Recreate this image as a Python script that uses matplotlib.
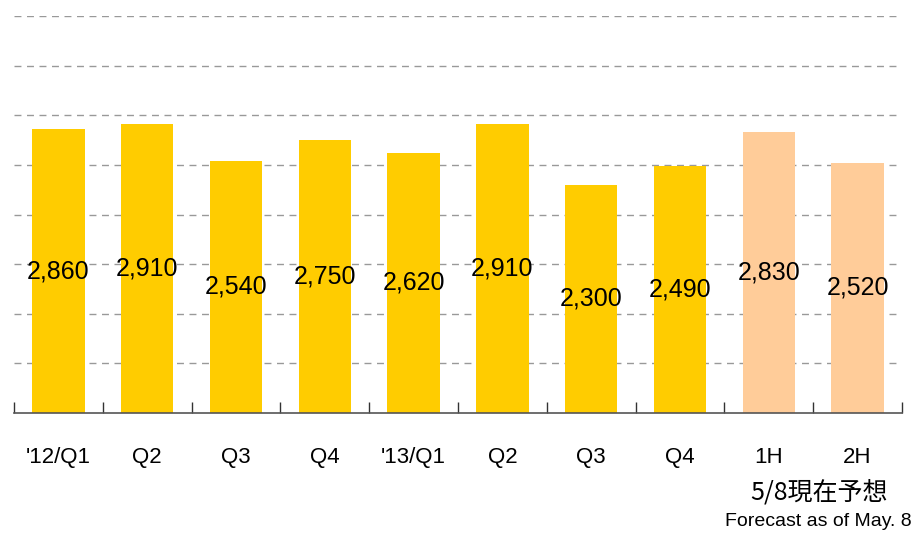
import matplotlib.pyplot as plt
import numpy as np

labels = ["'12/Q1", "Q2", "Q3", "Q4", "'13/Q1", "Q2", "Q3", "Q4", "1H", "2H"]
values = [2860, 2910, 2540, 2750, 2620, 2910, 2300, 2490, 2830, 2520]
forecast = [False] * 8 + [True] * 2

actual_color = "#FFCC00"
forecast_color = "#FFCC99"
narrow = ["Liberation Sans Narrow", "Liberation Sans", "DejaVu Sans"]

fig = plt.figure(figsize=(9.14, 5.33), dpi=100)
ax = fig.add_axes([14 / 914, 1 - 413 / 533, 888 / 914, 397 / 533])

x = np.arange(len(values))
colors = [forecast_color if f else actual_color for f in forecast]
ax.bar(x, values, width=0.59, color=colors, zorder=2)

for xi, v in zip(x, values):
    ax.text(xi, v / 2, f"{v:,}", ha="center", va="center", fontsize=18,
            family=["Liberation Sans", "DejaVu Sans"], zorder=3)

ax.set_xlim(-0.5, len(values) - 0.5)
ax.set_ylim(0, 4000)
ax.set_yticks(np.arange(500, 4001, 500))
ax.tick_params(axis="y", left=False, labelleft=False)
ax.grid(axis="y", color="#999999", linestyle=(0, (5, 4)), linewidth=1, zorder=0)

# boundary ticks between categories
ax.set_xticks(np.arange(-0.5, len(values), 1.0))
ax.set_xticklabels([])
ax.tick_params(axis="x", direction="in", length=8, color="#333333", width=1)
for xi, lab in zip(x, labels):
    ax.text(xi, -0.112, lab, transform=ax.get_xaxis_transform(), ha="center",
            va="center", fontsize=16, family=narrow)

for side in ["left", "right", "top"]:
    ax.spines[side].set_visible(False)
ax.spines["bottom"].set_color("#555555")
ax.spines["bottom"].set_linewidth(1.2)

fig.text(819 / 914, 1 - 492 / 533, "5/8現在予想", ha="center", va="center",
         fontsize=18, family=["Noto Sans CJK JP", "DejaVu Sans"])
fig.text(912 / 914, 1 - 521 / 533, "Forecast as of May. 8", ha="right",
         va="center", fontsize=14, family=narrow)

fig.savefig("out.png", dpi=100)
